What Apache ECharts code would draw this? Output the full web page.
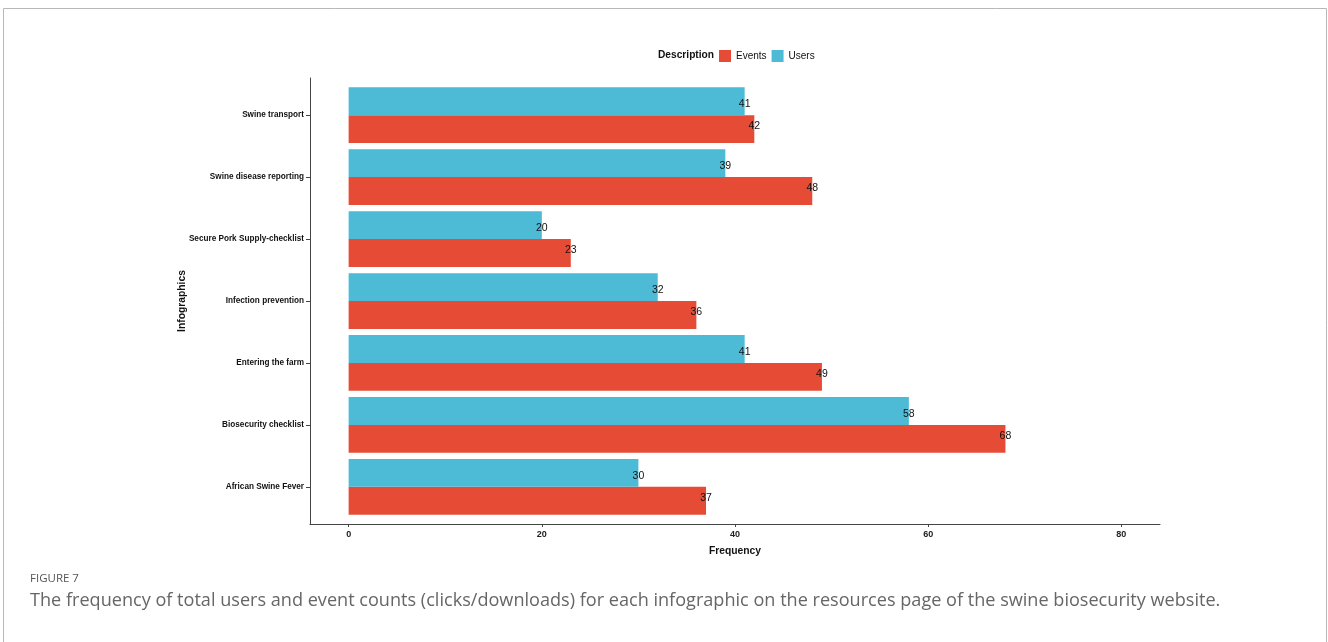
<!DOCTYPE html>
<html>
<head>
<meta charset="utf-8">
<script src="https://cdn.jsdelivr.net/npm/echarts@6/dist/echarts.min.js"></script>
<style>
    html, body { margin: 0; padding: 0; background: #fff; }
    #main { width: 1328px; height: 642px; }
</style>
</head>
<body>
<div id="main"></div>
<script>
    // categories from bottom to top (position 1..7 on the y axis)
    var categories = [
        'African Swine Fever',
        'Biosecurity checklist',
        'Entering the farm',
        'Infection prevention',
        'Secure Pork Supply-checklist',
        'Swine disease reporting',
        'Swine transport'
    ];
    var usersData = [30, 58, 41, 32, 20, 39, 41];
    var eventsData = [37, 68, 49, 36, 23, 48, 42];
    var xTicks = [0, 20, 40, 60, 80];
    var catPositions = categories.map(function (c, i) { return i + 1; });

    var RED = '#E64B35';
    var BLUE = '#4DBBD5';
    var HALF = 0.225;

    function makeRender(offset, color) {
        return function (params, api) {
            var v = api.value(0);
            var pos = api.value(1) + offset;
            var p0 = api.coord([0, pos + HALF]);
            var p1 = api.coord([v, pos - HALF]);
            // labels sit a little closer to the group centre than the bars
            var pc = api.coord([v, api.value(1) + offset * 0.78]);
            return {
                type: 'group',
                children: [
                    {
                        type: 'rect',
                        shape: { x: p0[0], y: p0[1], width: p1[0] - p0[0], height: p1[1] - p0[1] },
                        style: { fill: color }
                    },
                    {
                        type: 'text',
                        x: pc[0],
                        y: pc[1],
                        style: {
                            text: String(v),
                            fill: '#111',
                            font: '10.5px "Liberation Sans", Arial, sans-serif',
                            align: 'center',
                            verticalAlign: 'middle'
                        }
                    }
                ]
            };
        };
    }

    var myChart = echarts.init(document.getElementById('main'));
    myChart.setOption({
        animation: false,
        textStyle: { fontFamily: '"Liberation Sans", Arial, sans-serif' },
        legend: {
            left: 714,
            top: 45,
            itemWidth: 12,
            itemHeight: 12,
            itemGap: 5,
            icon: 'rect',
            textStyle: { fontSize: 10, color: '#111' },
            data: ['Events', 'Users']
        },
        grid: { left: 310, right: 168, top: 78, height: 446 },
        xAxis: {
            type: 'value',
            min: -4,
            max: 84,
            name: 'Frequency',
            nameLocation: 'middle',
            nameGap: 22,
            nameMoveOverlap: false,
            nameTextStyle: { fontSize: 10.3, fontWeight: 'bold', color: '#111' },
            axisLine: { show: true, onZero: false, lineStyle: { color: '#444', width: 1 } },
            axisTick: { show: true, length: 3, customValues: xTicks, lineStyle: { color: '#444' } },
            axisLabel: { customValues: xTicks, fontSize: 9, fontWeight: 'bold', color: '#222', margin: 6 },
            splitLine: { show: false }
        },
        yAxis: {
            type: 'value',
            min: 0.4,
            max: 7.6,
            name: 'Infographics',
            nameLocation: 'middle',
            nameGap: 123,
            nameMoveOverlap: false,
            nameTextStyle: { fontSize: 10.3, fontWeight: 'bold', color: '#111' },
            axisLine: { show: true, onZero: false, lineStyle: { color: '#444', width: 1 } },
            axisTick: { show: true, length: 4, customValues: catPositions, lineStyle: { color: '#444' } },
            axisLabel: {
                customValues: catPositions,
                fontSize: 8.2,
                fontWeight: 'bold',
                color: '#111',
                margin: 6,
                formatter: function (v) { return categories[Math.round(v) - 1]; }
            },
            splitLine: { show: false }
        },
        graphic: [
            {
                type: 'rect',
                shape: { x: 3.5, y: 8.5, width: 1323, height: 700 },
                style: { fill: 'none', stroke: '#b8b8b8', lineWidth: 1 },
                silent: true
            },
            {
                type: 'text',
                left: 658,
                top: 50,
                style: { text: 'Description', font: 'bold 10.2px "Liberation Sans", Arial, sans-serif', fill: '#111' }
            },
            {
                type: 'text',
                left: 30,
                top: 573,
                style: { text: 'FIGURE 7', font: '11.5px "Open Sans", sans-serif', fill: '#555' }
            },
            {
                type: 'text',
                left: 30,
                top: 592,
                style: {
                    text: 'The frequency of total users and event counts (clicks/downloads) for each infographic on the resources page of the swine biosecurity website.',
                    font: '18.1px "Open Sans", sans-serif',
                    fill: '#666'
                }
            }
        ],
        series: [
            {
                name: 'Events',
                type: 'custom',
                itemStyle: { color: RED },
                encode: { x: 0, y: 1 },
                renderItem: makeRender(-HALF, RED),
                data: eventsData.map(function (v, i) { return [v, catPositions[i]]; })
            },
            {
                name: 'Users',
                type: 'custom',
                itemStyle: { color: BLUE },
                encode: { x: 0, y: 1 },
                renderItem: makeRender(HALF, BLUE),
                data: usersData.map(function (v, i) { return [v, catPositions[i]]; })
            }
        ]
    });
</script>
</body>
</html>
